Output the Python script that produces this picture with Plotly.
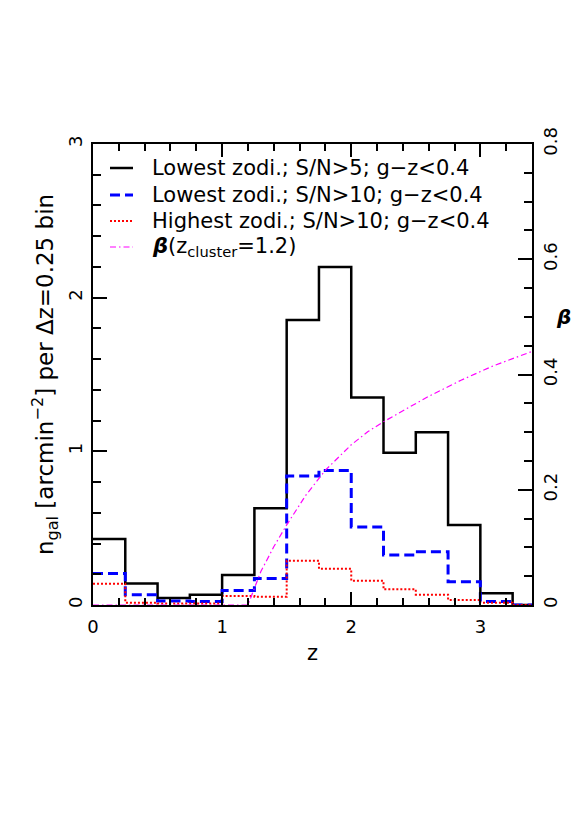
import plotly.graph_objects as go

# bin edges (Δz = 0.25)
z_edges = [0.0, 0.25, 0.5, 0.75, 1.0, 1.25, 1.5, 1.75, 2.0, 2.25, 2.5, 2.75, 3.0, 3.25, 3.5]

# n_gal per bin [arcmin^-2]
low_sn5 = [0.43, 0.14, 0.045, 0.067, 0.195, 0.63, 1.855, 2.20, 1.35, 0.99, 1.125, 0.52, 0.076, 0.0]
low_sn10 = [0.205, 0.067, 0.026, 0.022, 0.095, 0.173, 0.84, 0.875, 0.507, 0.325, 0.347, 0.152, 0.022, 0.0]
high_sn10 = [0.139, 0.015, 0.01, 0.01, 0.059, 0.054, 0.288, 0.236, 0.158, 0.102, 0.067, 0.033, 0.015, 0.0]

# lensing efficiency beta for z_cluster = 1.2
beta_z = [0.0, 1.2, 1.3, 1.4, 1.5, 1.65, 1.8, 2.0, 2.13, 2.25, 2.59, 2.85, 3.1, 3.4]
beta_val = [0.0, 0.0, 0.058, 0.101, 0.139, 0.191, 0.234, 0.278, 0.301, 0.318, 0.361, 0.390, 0.415, 0.440]

labels = [
    "Lowest zodi.; S/N>5; g\u2212z<0.4",
    "Lowest zodi.; S/N>10; g\u2212z<0.4",
    "Highest zodi.; S/N>10; g\u2212z<0.4",
    "<b><i>\u03b2</i></b>(z<sub>cluster</sub>=1.2)",
]

FONT = "DejaVu Sans"

styles = [
    dict(color="black", width=2.5),
    dict(color="#0000ff", width=3, dash="10px,5px"),
    dict(color="#ff0000", width=2, dash="2px,2px"),
    dict(color="#ff00ff", width=1.2, dash="6px,3px,1.5px,3px"),
]

def step_y(v):
    return list(v) + [v[-1]]

fig = go.Figure()
fig.add_trace(go.Scatter(x=z_edges, y=step_y(low_sn5), mode="lines", line_shape="hv",
                         line=styles[0], name=labels[0]))
fig.add_trace(go.Scatter(x=z_edges, y=step_y(low_sn10), mode="lines", line_shape="hv",
                         line=styles[1], name=labels[1]))
fig.add_trace(go.Scatter(x=z_edges, y=step_y(high_sn10), mode="lines", line_shape="hv",
                         line=styles[2], name=labels[2]))
fig.add_trace(go.Scatter(x=beta_z, y=beta_val, mode="lines", yaxis="y2",
                         line=styles[3], name=labels[3]))

axis_common = dict(showgrid=False, zeroline=False, showline=True, linecolor="black", linewidth=2,
                   ticks="inside", tickcolor="black", tickwidth=1.5,
                   tickfont=dict(family=FONT, size=18, color="black"))

fig.update_layout(
    width=573, height=815,
    margin=dict(l=85, r=49, t=136, b=218),
    paper_bgcolor="white", plot_bgcolor="white",
    font=dict(family=FONT, size=18, color="black"),
    showlegend=False,
    xaxis=dict(range=[0, 3.4], dtick=1, tick0=0, ticklen=13, mirror="ticks", ticklabelstandoff=4,
               minor=dict(dtick=0.2, ticklen=7, ticks="inside", tickcolor="black", tickwidth=1.5),
               title=dict(text="z", font=dict(family=FONT, size=21), standoff=10),
               **axis_common),
    yaxis=dict(range=[0, 3], dtick=1, tick0=0, ticklen=14, tickangle=-90, ticklabelstandoff=2,
               minor=dict(dtick=0.2, ticklen=8, ticks="inside", tickcolor="black", tickwidth=1.5),
               title=dict(text="n<sub>gal</sub> [arcmin<sup>\u22122</sup>] per \u0394z=0.25 bin",
                          font=dict(family=FONT, size=23), standoff=5),
               **axis_common),
    yaxis2=dict(range=[0, 0.8], dtick=0.2, tick0=0, ticklen=14, tickangle=-90, side="right",
                overlaying="y", anchor="x", ticklabelstandoff=1,
                minor=dict(dtick=0.05, ticklen=8, ticks="inside", tickcolor="black", tickwidth=1.5),
                **axis_common),
)

# legend drawn inside the plot (keys + labels)
PW, PH = 439.0, 461.0
key_x0, key_x1, text_x = 17.0 / PW, 40.0 / PW, 57.0 / PW
row_px = [24, 51, 77, 103]
for lab, st, r in zip(labels, styles, row_px):
    yp = 1 - r / PH
    fig.add_shape(type="line", xref="paper", yref="paper", x0=key_x0, x1=key_x1, y0=yp, y1=yp,
                  line=st)
    fig.add_annotation(text=lab, xref="paper", yref="paper", x=text_x, y=yp, showarrow=False,
                       xanchor="left", yanchor="middle",
                       font=dict(family=FONT, size=21, color="black"))

fig.add_annotation(text="<b><i>\u03b2</i></b>", xref="paper", yref="y2", x=1.0, y=0.5,
                   xshift=31, showarrow=False, xanchor="center", yanchor="middle",
                   font=dict(family=FONT, size=20, color="black"))

fig.write_html("out.html")
